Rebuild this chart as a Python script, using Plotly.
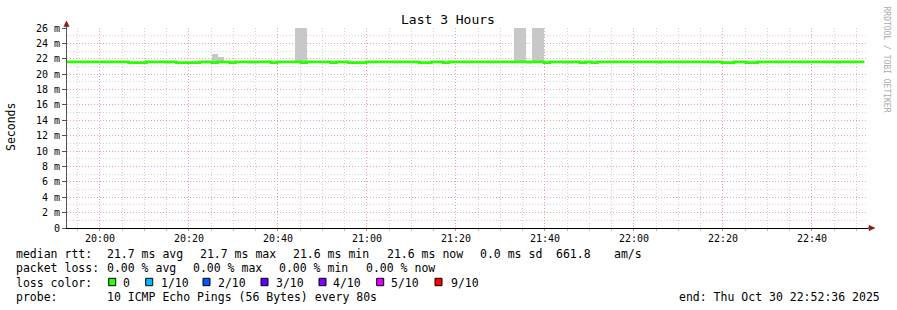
import plotly.graph_objects as go
from datetime import datetime, timedelta

# ---------------- data ----------------
start_time = datetime(2025, 10, 30, 19, 51, 48)   # first 80 s bin
step_seconds = 80
view_start = datetime(2025, 10, 30, 19, 52, 36)
view_end = datetime(2025, 10, 30, 22, 52, 36)

median_ms = [
    21.6, 21.6, 21.6, 21.6, 21.6, 21.6, 21.6, 21.6, 21.6, 21.6, 21.6, 21.5, 21.5, 21.5, 21.6,
    21.6, 21.6, 21.6, 21.6, 21.5, 21.5, 21.5, 21.5, 21.6, 21.6, 21.5, 21.6, 21.6, 21.5, 21.6,
    21.6, 21.6, 21.6, 21.6, 21.6, 21.5, 21.6, 21.6, 21.6, 21.6, 21.5, 21.6, 21.6, 21.6, 21.6,
    21.5, 21.6, 21.6, 21.5, 21.5, 21.5, 21.6, 21.6, 21.6, 21.6, 21.6, 21.6, 21.6, 21.6, 21.6,
    21.5, 21.5, 21.6, 21.6, 21.5, 21.6, 21.6, 21.6, 21.6, 21.6, 21.6, 21.6, 21.6, 21.6, 21.6,
    21.6, 21.6, 21.6, 21.6, 21.6, 21.6, 21.5, 21.6, 21.6, 21.6, 21.6, 21.6, 21.5, 21.6, 21.5,
    21.6, 21.6, 21.6, 21.6, 21.6, 21.6, 21.6, 21.6, 21.6, 21.6, 21.6, 21.6, 21.6, 21.6, 21.6,
    21.6, 21.6, 21.6, 21.6, 21.6, 21.6, 21.5, 21.5, 21.6, 21.6, 21.5, 21.5, 21.6, 21.6, 21.6,
    21.6, 21.6, 21.6, 21.6, 21.6, 21.6, 21.6, 21.6, 21.6, 21.6, 21.6, 21.6, 21.6, 21.6, 21.6,
]

# smoke (ping spread) above the median
smoke_bins = [25, 26, 39, 40, 76, 77, 79, 80]
smoke_top_ms = [22.6, 22.2, 34.0, 34.0, 34.0, 34.0, 34.0, 34.0]

# faint smoke just below the median
low_smoke_bins = [17, 31, 32, 78, 84, 85, 100, 109, 130]
low_smoke_bottom_ms = [21.3, 21.3, 21.3, 21.3, 21.3, 21.3, 21.3, 21.3, 21.3]

y_tick_vals = [0, 2, 4, 6, 8, 10, 12, 14, 16, 18, 20, 22, 24, 26]
y_tick_text = ["0", "2 m", "4 m", "6 m", "8 m", "10 m", "12 m", "14 m", "16 m",
               "18 m", "20 m", "22 m", "24 m", "26 m"]

title_text = "Last 3 Hours"
y_title = "Seconds"
watermark = "RRDTOOL / TOBI OETIKER"

legend_rtt = ["median rtt:", "21.7 ms avg", "21.7 ms max", "21.6 ms min",
              "21.6 ms now", "0.0 ms sd", "661.8", "am/s"]
legend_loss = ["packet loss:", "0.00 % avg", "0.00 % max", "0.00 % min", "0.00 % now"]
loss_color_label = "loss color:"
loss_labels = ["0", "1/10", "2/10", "3/10", "4/10", "5/10", "9/10"]
loss_colors = ["#26ff00", "#00b8ff", "#0059ff", "#5e00ff", "#7e00ff", "#dd00ff", "#ff0000"]
probe_label = "probe:"
probe_text = "10 ICMP Echo Pings (56 Bytes) every 80s"
end_text = "end: Thu Oct 30 22:52:36 2025"

# ---------------- layout helpers (pixel -> paper) ----------------
W, H = 897, 310
PL, PR, PT, PB = 67, 868, 28, 228


def fx(px):
    return (px - PL) / (PR - PL)


def fy(py):
    return (PB - py) / (PB - PT)


def nb(s):
    return s.replace(" ", "\u00a0")


MONO = "DejaVu Sans Mono"
bin_starts = [start_time + timedelta(seconds=step_seconds * i) for i in range(len(median_ms))]
bin_ms = step_seconds * 1000

fig = go.Figure()

# faint low smoke
fig.add_trace(go.Bar(
    x=[bin_starts[b] for b in low_smoke_bins],
    base=low_smoke_bottom_ms,
    y=[median_ms[b] - lo for b, lo in zip(low_smoke_bins, low_smoke_bottom_ms)],
    width=bin_ms, offset=0,
    marker=dict(color="#dcdcdc", line=dict(width=0)),
    hoverinfo="skip", showlegend=False,
))

# smoke above median
fig.add_trace(go.Bar(
    x=[bin_starts[b] for b in smoke_bins],
    base=[median_ms[b] for b in smoke_bins],
    y=[t - median_ms[b] for b, t in zip(smoke_bins, smoke_top_ms)],
    width=bin_ms, offset=0,
    marker=dict(color="#c8c8c8", line=dict(width=0)),
    hoverinfo="skip", showlegend=False,
))

# median line (step)
fig.add_trace(go.Scatter(
    x=bin_starts + [bin_starts[-1] + timedelta(seconds=step_seconds)],
    y=median_ms + [median_ms[-1]],
    mode="lines", line=dict(color="#26ff00", width=2.6, shape="hv"),
    hoverinfo="skip", showlegend=False,
))

annotations = []


def add_text(text, px, py, size=11.5, anchor="left", color="#000000", angle=0, yanchor="middle"):
    annotations.append(dict(
        text=nb(text), x=fx(px), y=fy(py), xref="paper", yref="paper",
        xanchor=anchor, yanchor=yanchor, showarrow=False, textangle=angle,
        font=dict(family=MONO, size=size, color=color),
        borderpad=0, borderwidth=0,
    ))


add_text(title_text, 448, 19, size=13, anchor="center")
add_text(y_title, 11, 127, size=11.5, anchor="center", angle=-90)
add_text(watermark, 886.5, 59, size=8, anchor="center", color="#aaaaaa", angle=90)

rtt_x = [16, 107, 200, 293, 386.7, 480, 556, 614.3]
for t, x in zip(legend_rtt, rtt_x):
    add_text(t, x, 254.3)
loss_x = [16, 107.3, 193.3, 279.3, 365.7]
for t, x in zip(legend_loss, loss_x):
    add_text(t, x, 268.3)
add_text(loss_color_label, 16, 282.5)
box_x = [108.7, 145.7, 203, 261, 319, 376.7, 435]
label_x = [123, 160.7, 218.3, 276, 333.3, 390.7, 451]
shapes = []
for lbl, col, bx, lx in zip(loss_labels, loss_colors, box_x, label_x):
    add_text(lbl, lx, 282.5)
    shapes.append(dict(type="rect", xref="paper", yref="paper",
                       x0=fx(bx), x1=fx(bx + 7), y0=fy(278.3), y1=fy(285.7),
                       fillcolor=col, line=dict(color="#000000", width=1)))
add_text(probe_label, 16, 296.7)
add_text(probe_text, 107, 296.7)
add_text(end_text, 880.5, 296.7, anchor="right")

# axis arrows
shapes.append(dict(type="line", xref="paper", yref="paper",
                   x0=fx(66.5), x1=fx(66.5), y0=fy(PT), y1=fy(25),
                   line=dict(color="#555555", width=1)))
shapes.append(dict(type="path", xref="paper", yref="paper",
                   path=f"M {fx(66.5)},{fy(21)} L {fx(63.8)},{fy(26.5)} L {fx(69.2)},{fy(26.5)} Z",
                   fillcolor="#8b1a1a", line=dict(color="#8b1a1a", width=0.5)))
shapes.append(dict(type="line", xref="paper", yref="paper",
                   x0=fx(PR), x1=fx(870), y0=fy(228), y1=fy(228),
                   line=dict(color="#000000", width=1)))
shapes.append(dict(type="path", xref="paper", yref="paper",
                   path=f"M {fx(875)},{fy(228)} L {fx(869)},{fy(225.3)} L {fx(869)},{fy(230.7)} Z",
                   fillcolor="#8b1a1a", line=dict(color="#8b1a1a", width=0.5)))

fig.update_layout(
    width=W, height=H,
    margin=dict(l=PL, r=W - PR, t=PT, b=H - PB, pad=0),
    paper_bgcolor="#ffffff", plot_bgcolor="#ffffff",
    barmode="overlay", bargap=0,
    showlegend=False,
    annotations=annotations, shapes=shapes,
    font=dict(family=MONO, size=10, color="#000000"),
)

fig.update_xaxes(
    type="date", range=[view_start, view_end],
    tick0="2025-10-30 20:00:00", dtick=20 * 60 * 1000, tickformat="%H:%M",
    showgrid=True, gridcolor="#f2a0a0", griddash="1px,2px", gridwidth=1,
    showline=True, linecolor="#000000", linewidth=1,
    ticks="outside", ticklen=2, tickcolor="#f08080", tickwidth=1,
    tickfont=dict(family=MONO, size=10, color="#000000"),
    ticklabelstandoff=-1,
    zeroline=False,
    minor=dict(dtick=5 * 60 * 1000, tick0="2025-10-30 20:00:00", showgrid=True,
               gridcolor="#d2d2d2", griddash="1px,2px", gridwidth=1,
               ticks="outside", ticklen=2, tickcolor="#c0c0c0"),
    fixedrange=True,
)

fig.update_yaxes(
    range=[0, 26],
    tickmode="array", tickvals=y_tick_vals, ticktext=y_tick_text,
    showgrid=True, gridcolor="#f2a0a0", griddash="1px,2px", gridwidth=1,
    showline=True, linecolor="#555555", linewidth=1,
    ticks="outside", ticklen=4, tickcolor="#555555",
    tickfont=dict(family=MONO, size=10, color="#000000"),
    zeroline=False,
    minor=dict(tickmode="linear", tick0=0, dtick=1, showgrid=True,
               gridcolor="#d2d2d2", griddash="1px,2px", gridwidth=1),
    fixedrange=True,
)

fig.write_html("out.html")
